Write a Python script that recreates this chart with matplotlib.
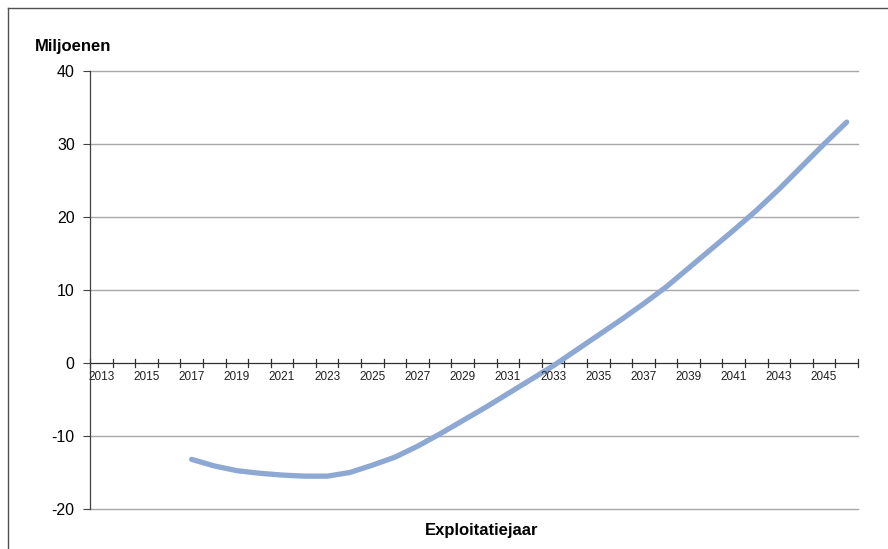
import matplotlib.pyplot as plt
from matplotlib.lines import Line2D

plt.rcParams['font.family'] = ['Liberation Sans', 'DejaVu Sans']

# jaren op de categorie-as en de waarden (miljoenen)
years = list(range(2013, 2047))
data_years = list(range(2017, 2047))
values = [-13.2, -14.1, -14.75, -15.1, -15.35, -15.5, -15.5, -15.0, -14.0, -12.9,
          -11.4, -9.7, -7.9, -6.1, -4.2, -2.3, -0.4, 1.7, 3.8, 5.9,
          8.1, 10.4, 13.0, 15.6, 18.2, 20.9, 23.8, 26.9, 30.0, 33.0]
y_ticks = [-20, -10, 0, 10, 20, 30, 40]

W, H = 888, 549
fig = plt.figure(figsize=(W / 100, H / 100), dpi=100)
ax = fig.add_axes([90 / W, 1 - 509 / H, (858 - 90) / W, (509 - 71) / H])

# categorie-index: jaar 2013 -> 0
xs = [y - 2013 for y in data_years]
ax.plot(xs, values, color='#8DA8D2', lw=3.8, solid_capstyle='round',
        solid_joinstyle='round', zorder=3)

ax.set_xlim(-0.5, len(years) - 0.5)
ax.set_ylim(-20, 40)
ax.set_yticks(y_ticks)
ax.set_yticklabels([str(v) for v in y_ticks], fontsize=11.5)
ax.tick_params(axis='y', length=5, width=0.8, color='#404040', pad=6)
for v in y_ticks:
    if v != 0:
        ax.axhline(v, color='#A8A8A8', lw=1, clip_on=False, zorder=1)

for s in ['top', 'right', 'bottom']:
    ax.spines[s].set_visible(False)
ax.spines['left'].set_color('#404040')
ax.spines['left'].set_linewidth(0.9)

# categorie-as op y=0 met kruisende streepjes
ax.set_xticks([])
ax.axhline(0, color='#303030', lw=0.9, zorder=2)
for i in range(len(years) + 1):
    ax.plot([i - 0.5, i - 0.5], [-0.55, 0.55], color='#303030', lw=0.9,
            clip_on=False, zorder=2)
for i, yr in enumerate(years):
    if yr % 2 == 1:
        ax.text(i, -1.1, str(yr), ha='center', va='top', fontsize=8.5,
                color='#202020')

fig.text(35 / W, 1 - 46 / H, 'Miljoenen', fontsize=12, fontweight='bold',
         ha='left', va='center')
fig.text(482 / W, 1 - 531 / H, 'Exploitatiejaar', fontsize=12,
         fontweight='bold', ha='center', va='center')

# rand van het kader links en boven
fig.add_artist(Line2D([7.5 / W, 7.5 / W], [0, 1 - 8 / H], color='#505050',
                      lw=1, transform=fig.transFigure))
fig.add_artist(Line2D([7.5 / W, 1], [1 - 8 / H, 1 - 8 / H], color='#505050',
                      lw=1, transform=fig.transFigure))

fig.savefig('out.png', dpi=100)
